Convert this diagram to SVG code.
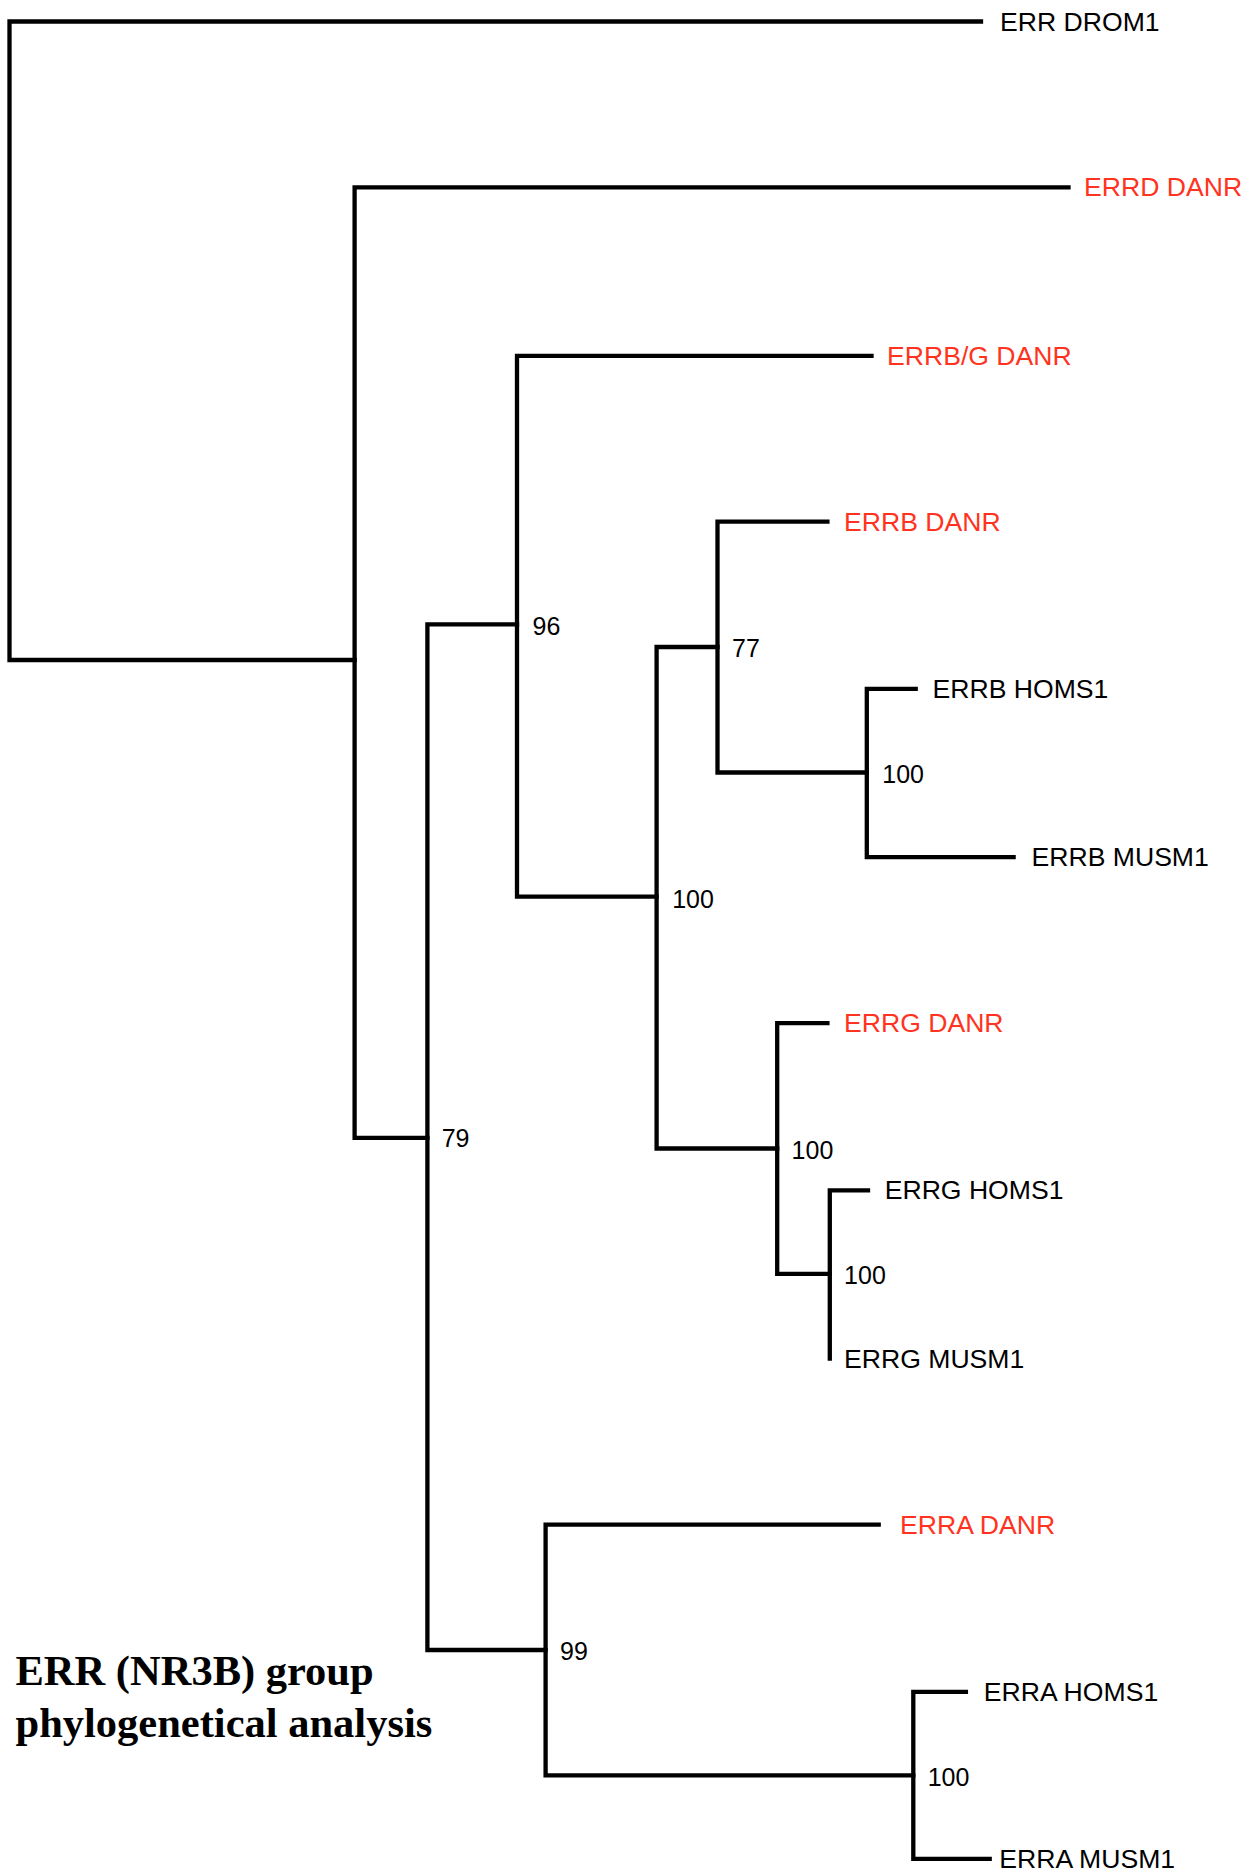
<svg xmlns="http://www.w3.org/2000/svg" width="1256" height="1872" viewBox="0 0 1256 1872">
<style>
.br{fill:none;stroke:#000;stroke-width:4.3;stroke-linejoin:miter;stroke-linecap:square}
.lb{font-family:"Liberation Sans",Arial,sans-serif;font-size:26.6px;fill:#000;dominant-baseline:central}
.red{fill:#ff3320}
.sp{font-family:"Liberation Sans",Arial,sans-serif;font-size:25px;fill:#000;dominant-baseline:central}
.ti{font-family:"Liberation Serif","Times New Roman",serif;font-size:42.5px;font-weight:bold;fill:#000}
</style>
<rect width="1256" height="1872" fill="#fff"/>
<g id="connectors">
<path class="br" d="M981,21.5 H9.5 V660 H354.6"/>
<path class="br" d="M1068.5,187.4 H354.6 V1137.8 H427.4"/>
<path class="br" d="M517,624.4 H427.4 V1650 H545.6"/>
<path class="br" d="M871.5,355.8 H517 V896.6 H656.6"/>
<path class="br" d="M717.5,647 H656.6 V1148.5 H777.2"/>
<path class="br" d="M827.4,521.7 H717.5 V772.5 H866.8"/>
<path class="br" d="M915.7,688.9 H866.8 V857.2 H1013.6"/>
<path class="br" d="M827.4,1023.2 H777.2 V1273.9 H829.8"/>
<path class="br" d="M868,1190.3 H829.8 V1358.7"/>
<path class="br" d="M878.7,1524.6 H545.6 V1775.3 H913.3"/>
<path class="br" d="M965.9,1691.8 H913.3 V1858.9 H989.7"/>
</g>
<g id="leaf-err-drom1"><text class="lb" x="1000" y="21.5">ERR DROM1</text></g>
<g id="leaf-errd-danr"><text class="lb red" x="1084" y="187.4">ERRD DANR</text></g>
<g id="leaf-errbg-danr"><text class="lb red" x="887" y="355.8">ERRB/G DANR</text></g>
<g id="leaf-errb-danr"><text class="lb red" x="844" y="521.7">ERRB DANR</text></g>
<g id="leaf-errb-homs1"><text class="lb" x="932.5" y="688.9">ERRB HOMS1</text></g>
<g id="leaf-errb-musm1"><text class="lb" x="1031.5" y="857.2">ERRB MUSM1</text></g>
<g id="leaf-errg-danr"><text class="lb red" x="844" y="1023.2">ERRG DANR</text></g>
<g id="leaf-errg-homs1"><text class="lb" x="884.7" y="1190.3">ERRG HOMS1</text></g>
<g id="leaf-errg-musm1"><text class="lb" x="844" y="1358.7">ERRG MUSM1</text></g>
<g id="leaf-erra-danr"><text class="lb red" x="900" y="1524.6">ERRA DANR</text></g>
<g id="leaf-erra-homs1"><text class="lb" x="983.8" y="1691.8">ERRA HOMS1</text></g>
<g id="leaf-erra-musm1"><text class="lb" x="999.3" y="1858.9">ERRA MUSM1</text></g>
<g id="node-96"><text class="sp" x="532.5" y="625.6">96</text></g>
<g id="node-77"><text class="sp" x="732" y="648.3">77</text></g>
<g id="node-100a"><text class="sp" x="672.2" y="899">100</text></g>
<g id="node-100b"><text class="sp" x="882.3" y="773.7">100</text></g>
<g id="node-100c"><text class="sp" x="791.6" y="1149.7">100</text></g>
<g id="node-100d"><text class="sp" x="844.1" y="1275.1">100</text></g>
<g id="node-79"><text class="sp" x="441.7" y="1137.8">79</text></g>
<g id="node-99"><text class="sp" x="560" y="1651.2">99</text></g>
<g id="node-100e"><text class="sp" x="927.7" y="1776.5">100</text></g>
<g id="title">
<text class="ti" x="15.5" y="1685">ERR (NR3B) group</text>
<text class="ti" x="15.5" y="1737">phylogenetical analysis</text>
</g>
</svg>
